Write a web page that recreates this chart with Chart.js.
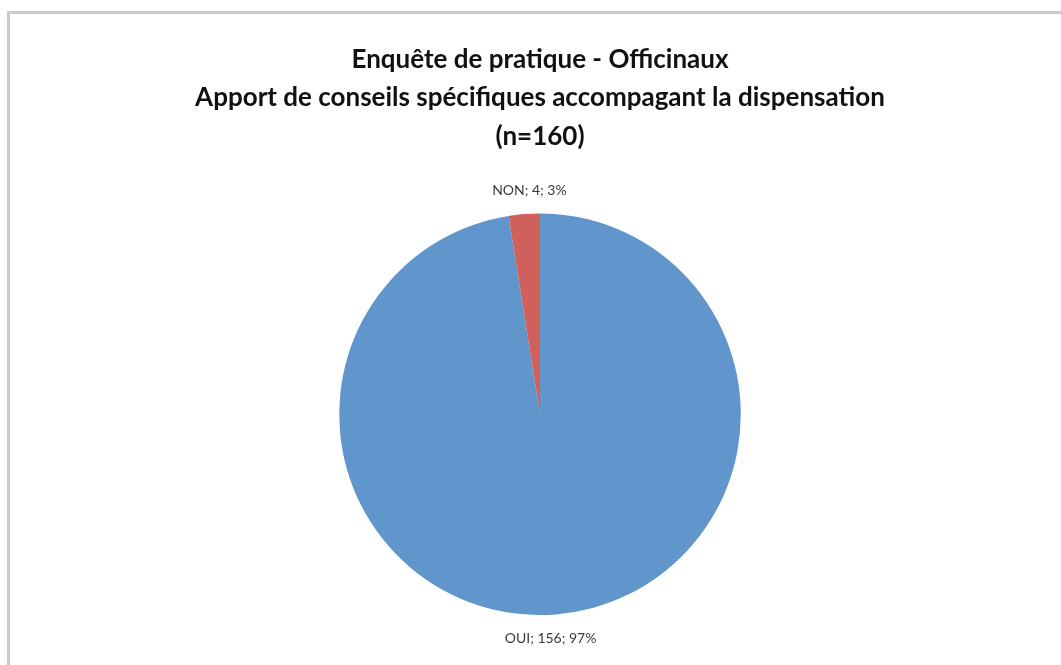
<!DOCTYPE html>
<html>
<head>
<meta charset="utf-8">
<script src="https://cdn.jsdelivr.net/npm/chart.js@4/dist/chart.umd.min.js"></script>
<style>
  html, body { margin: 0; padding: 0; background: #fff; }
  body { width: 1061px; height: 665px; position: relative; overflow: hidden; }
  #frame {
    position: absolute; left: 7px; top: 11px; width: 1100px; height: 700px;
    border-top: 3px solid #cacaca; border-left: 3px solid #cacaca;
  }
  #wrap { position: absolute; left: 0; top: 0; width: 1061px; height: 665px; }
</style>
</head>
<body>
<div id="frame"></div>
<div id="wrap"><canvas id="myPieChart"></canvas></div>
<script>
// data
var categories = ['OUI', 'NON'];
var counts = [156, 4];
var pctLabels = ['97%', '3%'];
var sliceColors = ['#6096cb', '#cf605b'];
var titleLines = [
    'Enquête de pratique - Officinaux',
    'Apport de conseils spécifiques accompagant la dispensation',
    '(n=160)'
];

// draws "CAT; n; pct" outside each slice
var outsideLabels = {
    id: 'outsideLabels',
    afterDatasetsDraw: function(chart){
        var ctx = chart.ctx;
        var meta = chart.getDatasetMeta(0);
        ctx.save();
        ctx.font = '14px Lato';
        ctx.fillStyle = '#3a3a3a';
        ctx.textAlign = 'center';
        ctx.textBaseline = 'middle';
        meta.data.forEach(function(arc, i){
            var p = arc.getProps(['x', 'y', 'startAngle', 'endAngle', 'outerRadius'], true);
            var mid = (p.startAngle + p.endAngle) / 2;
            var d = p.outerRadius + 24;
            // labels sit a bit closer to the vertical axis than the slice middle
            var lx = p.x + Math.cos(mid) * d * 0.6;
            var ly = p.y + Math.sin(mid) * d;
            ctx.fillText(categories[i] + '; ' + counts[i] + '; ' + pctLabels[i], lx, ly);
        });
        ctx.restore();
    }
};

var ctx = document.getElementById('myPieChart');
var myPieChart = new Chart(ctx, {
    type: 'pie',
    data: {
        labels: categories,
        datasets: [{
            data: counts,
            backgroundColor: sliceColors,
            borderWidth: 0
        }]
    },
    options: {
        responsive: true,
        maintainAspectRatio: false,
        animation: false,
        layout: { padding: { left: 19, right: 0, top: 0, bottom: 50 } },
        plugins: {
            legend: { display: false },
            tooltip: { enabled: false },
            title: {
                display: true,
                text: titleLines,
                color: '#111111',
                font: { family: 'Lato', size: 26, weight: 'bold', lineHeight: 1.48 },
                padding: { top: 40, bottom: 58 }
            }
        }
    },
    plugins: [outsideLabels]
});
</script>
</body>
</html>
